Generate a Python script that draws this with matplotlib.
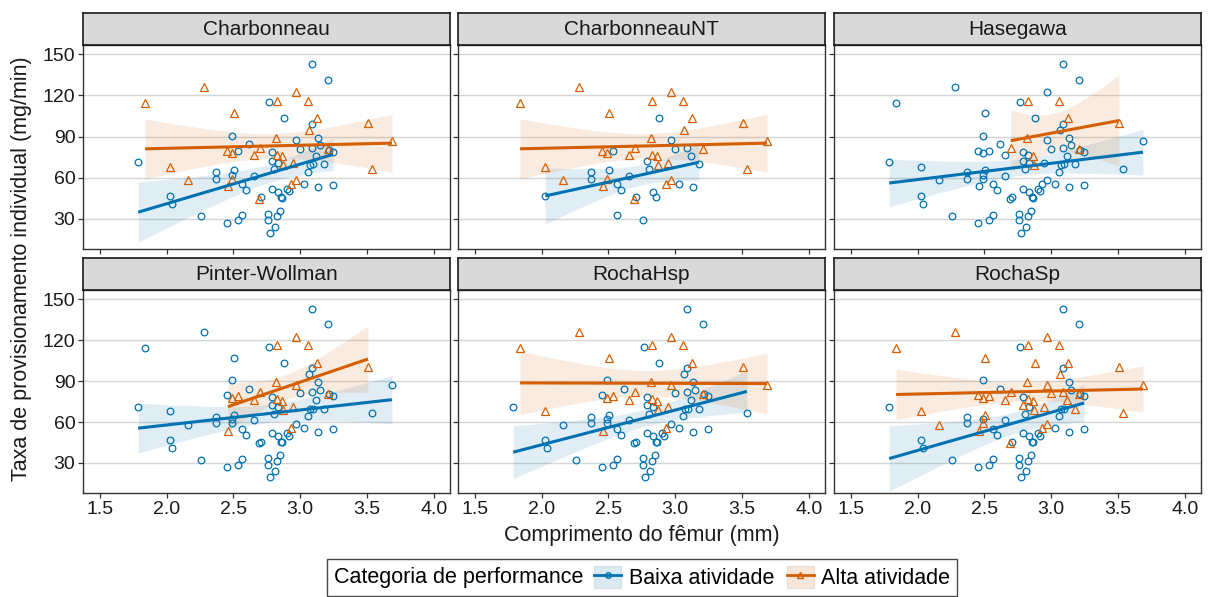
import numpy as np
import matplotlib
matplotlib.use("Agg")
import matplotlib.pyplot as plt
from matplotlib.patches import Patch
from matplotlib.lines import Line2D
from matplotlib.offsetbox import HPacker

plt.rcParams['font.family'] = ['Liberation Sans', 'DejaVu Sans']

# ---------------- data ----------------
femur_mm = [1.786, 1.838, 2.027, 2.027, 2.037, 2.157, 2.259, 2.276, 2.366, 2.366,
            2.448, 2.450, 2.458, 2.488, 2.488, 2.488, 2.488, 2.505, 2.505, 2.537,
            2.537, 2.565, 2.565, 2.597, 2.617, 2.657, 2.657, 2.694, 2.706, 2.756,
            2.756, 2.766, 2.776, 2.786, 2.786, 2.786, 2.806, 2.811, 2.826, 2.826,
            2.836, 2.836, 2.846, 2.853, 2.863, 2.878, 2.898, 2.915, 2.928, 2.943,
            2.965, 2.965, 2.965, 2.995, 3.027, 3.055, 3.067, 3.077, 3.087, 3.087,
            3.087, 3.097, 3.117, 3.137, 3.137, 3.147, 3.177, 3.206, 3.216, 3.246,
            3.246, 3.537, 3.687, 2.697, 2.818, 2.828, 2.861, 2.868, 3.055, 3.127,
            3.209, 3.507]
rate_mg_min = [71.2, 114.1, 67.8, 46.6, 41.0, 58.0, 32.0, 125.9, 63.9, 59.3,
               27.3, 79.8, 53.7, 90.5, 77.8, 62.2, 59.0, 107.1, 65.4, 79.3,
               28.8, 33.0, 55.1, 50.7, 84.4, 76.3, 61.2, 44.6, 45.6, 33.7,
               28.8, 114.9, 19.5, 78.5, 72.2, 52.0, 66.1, 24.4, 76.8, 31.7,
               49.8, 70.7, 35.6, 45.6, 45.3, 103.2, 51.7, 50.0, 55.6, 71.0,
               122.2, 87.3, 58.5, 81.2, 55.6, 64.1, 95.1, 69.5, 142.7, 99.3,
               81.7, 69.8, 76.1, 89.3, 52.9, 83.7, 69.8, 131.5, 80.2, 78.8,
               54.9, 66.6, 87.1, 81.7, 89.3, 116.1, 75.6, 69.0, 116.1, 103.2,
               80.7, 100.0]

methods = ['Charbonneau', 'CharbonneauNT', 'Hasegawa',
           'Pinter-Wollman', 'RochaHsp', 'RochaSp']

# point ids (1-based) classified as "Alta atividade" by each method
alta_charbonneau = [2, 3, 6, 8, 12, 13, 15, 17, 18, 26, 28, 39, 49, 50, 51, 53, 57,
                    72, 73, 74, 75, 76, 77, 78, 79, 80, 81, 82]
alta_charbonneauNT = [2, 3, 6, 8, 12, 13, 15, 17, 18, 26, 28, 39, 49, 50, 51, 53, 57,
                      72, 73, 74, 75, 76, 77, 78, 79, 80, 81, 82]
alta_hasegawa = [74, 75, 76, 77, 78, 79, 80, 81, 82]
alta_pinter = [13, 15, 20, 26, 39, 49, 50, 51, 52, 74, 75, 76, 77, 78, 79, 80, 81, 82]
alta_rochahsp = [2, 3, 8, 13, 15, 18, 20, 26, 39, 49, 50, 51, 52, 73,
                 74, 75, 76, 77, 78, 79, 80, 81, 82]
alta_rochasp = [2, 3, 6, 8, 12, 13, 15, 17, 18, 19, 20, 26, 28, 35, 39, 46, 49, 50,
                51, 52, 53, 54, 57, 61, 63, 67, 72, 73, 74, 75, 76, 77, 78, 79, 80,
                81, 82]
# CharbonneauNT shows only a subset of "Baixa atividade" points
baixa_charbonneauNT = [4, 9, 10, 19, 20, 22, 23, 24, 27, 29, 31, 35, 37, 41, 44, 46,
                       52, 54, 55, 61, 63, 65, 67]

alta_sets = [alta_charbonneau, alta_charbonneauNT, alta_hasegawa,
             alta_pinter, alta_rochahsp, alta_rochasp]
baixa_sets = [None, baixa_charbonneauNT, None, None, None, None]

categories = ['Baixa atividade', 'Alta atividade']
colors = ['#0072B2', '#D55E00']
markers = ['o', '^']

x_ticks = [1.5, 2.0, 2.5, 3.0, 3.5, 4.0]
y_ticks = [30, 60, 90, 120, 150]


# ---------------- helpers ----------------
def t975(df):
    z = 1.959964
    return (z + (z**3 + z) / (4 * df) + (5 * z**5 + 16 * z**3 + 3 * z) / (96 * df**2)
            + (3 * z**7 + 19 * z**5 + 17 * z**3 - 15 * z) / (384 * df**3))


def lm_band(x, y, xs):
    n = len(x)
    b, a = np.polyfit(x, y, 1)
    fit = a + b * xs
    resid = y - (a + b * x)
    s = np.sqrt(np.sum(resid**2) / (n - 2))
    xm = x.mean()
    sxx = np.sum((x - xm)**2)
    se = s * np.sqrt(1.0 / n + (xs - xm)**2 / sxx)
    t = t975(n - 2)
    return fit, fit - t * se, fit + t * se


# ---------------- layout ----------------
W, H = 1209, 597
fig = plt.figure(figsize=(W / 100, H / 100), dpi=100)

col_left = [83, 458, 834]
panel_w = 367
rows = [(45, 249), (290, 493)]
strip_h = 32

X = np.array(femur_mm)
Y = np.array(rate_mg_min)
ids = np.arange(1, len(X) + 1)

for k, m in enumerate(methods):
    r, c = divmod(k, 3)
    top, bot = rows[r]
    left = col_left[c]
    ax = fig.add_axes([left / W, 1 - bot / H, panel_w / W, (bot - top) / H])
    sax = fig.add_axes([left / W, 1 - top / H, panel_w / W, strip_h / H])
    sax.set_facecolor('#d9d9d9')
    sax.set_xticks([]); sax.set_yticks([])
    for sp in sax.spines.values():
        sp.set_color('#1a1a1a'); sp.set_linewidth(1.2)
    sax.text(0.5, 0.47, m, ha='center', va='center', fontsize=15, color='#1a1a1a',
             transform=sax.transAxes)

    alta = np.isin(ids, alta_sets[k])
    if baixa_sets[k] is None:
        baixa = ~alta
    else:
        baixa = np.isin(ids, baixa_sets[k]) & ~alta
    masks = [baixa, alta]

    for g in range(2):
        xm, ym = X[masks[g]], Y[masks[g]]
        xs = np.linspace(xm.min(), xm.max(), 80)
        fit, lo, hi = lm_band(xm, ym, xs)
        ax.fill_between(xs, lo, hi, color=colors[g], alpha=0.12, lw=0, zorder=2)
    for g in range(2):
        xm, ym = X[masks[g]], Y[masks[g]]
        ax.plot(xm, ym, linestyle='none', marker=markers[g], mfc='none',
                mec=colors[g], mew=0.9, ms=4.8 if g == 0 else 5.8, zorder=3)
    for g in range(2):
        xm, ym = X[masks[g]], Y[masks[g]]
        xs = np.linspace(xm.min(), xm.max(), 80)
        fit, lo, hi = lm_band(xm, ym, xs)
        ax.plot(xs, fit, color=colors[g], lw=2.2, zorder=4, solid_capstyle='butt')

    ax.set_xlim(1.373, 4.122)
    ax.set_ylim(8.0, 156.75)
    ax.set_xticks(x_ticks)
    ax.set_yticks(y_ticks)
    ax.grid(True, axis='y', color='#d6d6d6', lw=1.0, zorder=0)
    ax.set_axisbelow(True)
    for sp in ax.spines.values():
        sp.set_color('#333333'); sp.set_linewidth(1.0)
    ax.tick_params(axis='both', length=3.5, width=0.9, color='#333333',
                   labelsize=14, labelcolor='#1a1a1a', pad=2)
    if c != 0:
        ax.tick_params(axis='y', labelleft=False)
    if r == 0:
        ax.tick_params(axis='x', labelbottom=False)
    else:
        ax.set_xticklabels([f'{v:.1f}' for v in x_ticks])

fig.text(642 / W, 1 - 535 / H, 'Comprimento do fêmur (mm)', ha='center', va='center',
         fontsize=15.5, color='#1a1a1a')
fig.text(22 / W, 1 - 269 / H, 'Taxa de provisionamento individual (mg/min)',
         ha='center', va='center', rotation=90, fontsize=15.5, color='#1a1a1a')

handles = []
for g in range(2):
    patch = Patch(facecolor=colors[g], alpha=0.15, edgecolor='#666666', lw=0.8)
    line = Line2D([], [], color=colors[g], lw=2.0, marker=markers[g], mfc='none',
                  mec=colors[g], ms=4)
    handles.append((patch, line))

leg = fig.legend(handles, categories, title='Categoria de performance', ncol=2,
                 loc='center', bbox_to_anchor=(642 / W, 1 - 577.5 / H),
                 fontsize=15.5, title_fontsize=15.5, frameon=True, fancybox=False,
                 edgecolor='#1a1a1a', handlelength=1.25, handleheight=1.25,
                 handletextpad=0.35, columnspacing=0.6, borderpad=0.3,
                 borderaxespad=0)
leg.get_frame().set_linewidth(1.0)
old = leg._legend_box
new = HPacker(pad=old.pad, sep=8, align='center',
              children=[leg._legend_title_box, leg._legend_handle_box])
new.set_figure(fig)
new.axes = old.axes
leg._legend_box = new
new.set_offset(leg._findoffset)

fig.savefig('out.png', dpi=100)
